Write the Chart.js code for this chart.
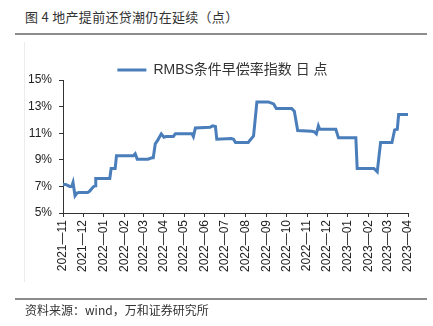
<!DOCTYPE html>
<html>
<head>
<meta charset="utf-8">
<script src="https://cdn.jsdelivr.net/npm/chart.js@4/dist/chart.umd.min.js"></script>
<style>
  html, body { margin: 0; padding: 0; background: #fff; }
  body { width: 433px; height: 326px; position: relative; overflow: hidden; font-family: "Noto Sans CJK SC", sans-serif; }
  #title { position: absolute; left: 25px; top: 7px; font-size: 13px; letter-spacing: 0.3px; color: #333; white-space: nowrap; }
  .rule { position: absolute; left: 15px; width: 412px; height: 2px; background: #8c8c8c; }
  #source { position: absolute; left: 25px; top: 301px; font-size: 12px; letter-spacing: 0; color: #333; white-space: nowrap; }
  #frame { position: absolute; left: 24px; top: 42px; width: 0; height: 240px; border-left: 1px solid #ececec; }
  #wrap { position: absolute; left: 0; top: 0; width: 433px; height: 326px; }
</style>
</head>
<body>
<div id="title">图 4 地产提前还贷潮仍在延续（点）</div>
<div class="rule" style="top:33px"></div>
<div id="frame"></div>
<div id="wrap"><canvas id="chart" width="433" height="326"></canvas></div>
<div class="rule" style="top:298px"></div>
<div id="source">资料来源：wind，万和证券研究所</div>
<script>
// Serie (fecha, valor en %)
var fechas = ['2021-11-01','2021-11-05','2021-11-11','2021-11-14','2021-11-16','2021-11-19','2021-11-22','2021-11-25',
  '2021-12-08','2021-12-11','2021-12-16','2021-12-19','2021-12-20','2022-01-10','2022-01-12','2022-01-18','2022-01-20',
  '2022-02-14','2022-02-17','2022-02-20','2022-03-08','2022-03-14','2022-03-16','2022-03-19','2022-03-23','2022-03-28',
  '2022-04-01','2022-04-04','2022-04-15','2022-04-18','2022-05-13','2022-05-15','2022-05-18','2022-06-09','2022-06-13',
  '2022-06-17','2022-06-19','2022-07-11','2022-07-14','2022-07-17','2022-08-05','2022-08-13','2022-08-18','2022-09-04',
  '2022-09-12','2022-09-16','2022-10-09','2022-10-13','2022-10-18','2022-11-08','2022-11-12','2022-11-15','2022-11-18',
  '2022-11-20','2022-12-14','2022-12-18','2023-01-13','2023-01-15','2023-02-09','2023-02-14','2023-02-19','2023-03-08',
  '2023-03-12','2023-03-16','2023-03-18','2023-04-01'];
var valores = [7.15,7.15,7.0,7.0,7.3,6.3,6.5,6.55,
  6.55,6.65,6.95,7.05,7.6,7.6,8.35,8.35,9.3,
  9.3,9.45,9.05,9.05,9.15,9.15,10.2,10.5,10.95,
  10.7,10.75,10.75,10.95,10.95,10.75,11.4,11.45,11.55,
  11.5,10.55,10.6,10.55,10.3,10.3,10.8,13.35,13.35,
  13.2,12.85,12.85,12.65,11.2,11.15,11.1,10.95,11.55,
  11.3,11.3,10.65,10.65,8.35,8.35,8.1,10.3,10.3,
  11.25,11.3,12.4,12.4];
var meses = ['2021-11','2021-12','2022-01','2022-02','2022-03','2022-04','2022-05','2022-06','2022-07',
  '2022-08','2022-09','2022-10','2022-11','2022-12','2023-01','2023-02','2023-03','2023-04'];
var serieNombre = 'RMBS条件早偿率指数 日 点';

// Días desde el 2021-11-01
var base = Date.UTC(2021, 10, 1);
function dias(s) {
  var p = s.split('-');
  return (Date.UTC(+p[0], +p[1] - 1, p[2] ? +p[2] : 1) - base) / 86400000;
}
var puntos = fechas.map(function(f, i) { return { x: dias(f), y: valores[i] }; });
var marcas = meses.map(dias);

var azul = '#4a7ebb';
var tinta = '#222';

// Ajusta la leyenda: menos alto y un poco a la derecha
var ajusteLeyenda = {
  id: 'ajusteLeyenda',
  beforeLayout: function(chart) {
    var lg = chart.legend;
    if (lg && !lg._ajustada) {
      var fit = lg.fit;
      lg.fit = function() { fit.call(this); this.height -= 7; };
      lg._ajustada = true;
    }
  },
  afterLayout: function(chart) {
    chart.legend.left += 7;
    chart.legend.right += 7;
  }
};

new Chart(document.getElementById('chart').getContext('2d'), {
  type: 'line',
  data: {
    datasets: [{
      label: serieNombre,
      data: puntos,
      borderColor: azul,
      backgroundColor: azul,
      borderWidth: 3,
      pointRadius: 0,
      tension: 0,
      fill: false
    }]
  },
  options: {
    responsive: false,
    animation: false,
    layout: { padding: { left: 23, right: 25, top: 59, bottom: 38 } },
    plugins: {
      tooltip: { enabled: false },
      legend: {
        position: 'top',
        labels: {
          usePointStyle: true,
          pointStyle: 'line',
          pointStyleWidth: 29,
          padding: 4,
          color: '#333',
          font: { family: 'Liberation Sans, "Noto Sans CJK SC"', size: 14 }
        }
      }
    },
    scales: {
      x: {
        type: 'linear',
        min: 0,
        max: marcas[marcas.length - 1],
        afterBuildTicks: function(axis) { axis.ticks = marcas.map(function(v) { return { value: v }; }); },
        afterFit: function(axis) { axis.height = 75; },
        grid: { display: true, drawOnChartArea: false, drawTicks: true, tickLength: 4, color: '#333' },
        border: { display: true, color: '#333', width: 1 },
        ticks: {
          autoSkip: false,
          minRotation: 90,
          maxRotation: 90,
          padding: 3,
          color: tinta,
          font: { family: 'Liberation Sans', size: 12 },
          callback: function(v, i) { return meses[i].replace('-', '—'); }
        }
      },
      y: {
        min: 5,
        max: 15,
        afterFit: function(axis) { axis.width = 40; },
        grid: { display: true, drawOnChartArea: false, drawTicks: true, tickLength: 4, color: '#333' },
        border: { display: true, color: '#333', width: 1 },
        ticks: {
          stepSize: 2,
          padding: 7,
          color: tinta,
          font: { family: 'Liberation Sans', size: 12 },
          callback: function(v) { return v + '%'; }
        }
      }
    }
  },
  plugins: [ajusteLeyenda]
});
</script>
</body>
</html>
